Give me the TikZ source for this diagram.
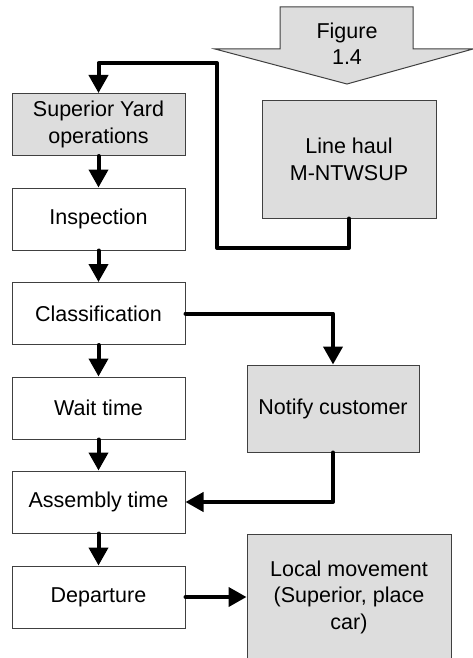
\documentclass[tikz,border=0pt]{standalone}
\usepackage{fontspec}
\setmainfont{Liberation Sans}
\usetikzlibrary{arrows.meta}
\definecolor{boxgray}{HTML}{DDDDDD}
\definecolor{edgegray}{HTML}{404040}
\begin{document}
\begin{tikzpicture}[x=1pt,y=-1pt,
  every node/.style={font=\fontsize{21.5}{26.5}\selectfont, align=center, inner sep=0pt},
  whitebox/.style={draw=edgegray, line width=1pt, fill=white, minimum width=173pt, minimum height=62pt},
  graybox/.style={whitebox, fill=boxgray},
  conn/.style={line width=4pt, line join=round, line cap=round, -{Triangle[width=19pt,length=18pt]}}]
\useasboundingbox (0,0) rectangle (473,658);
% Figure 1.4 block arrow
\draw[draw=edgegray, line width=1pt, fill=boxgray] (280,7) -- (413,7) -- (413,49) -- (473,49) -- (347,84) -- (215,49) -- (280,49) -- cycle;
\node (fig) at (347,43.5) {Figure\\1.4};
% left column
\node[graybox] (sy) at (98.5,124.5) {Superior Yard\\operations};
\node[whitebox] (insp) at (98.5,219) {Inspection};
\node[whitebox] (cls) at (98.5,313.5) {Classification};
\node[whitebox] (wait) at (98.5,408) {Wait time};
\node[whitebox] (asm) at (98.5,502) {Assembly time};
\node[whitebox] (dep) at (98.5,597) {Departure};
% right column
\node[graybox, minimum width=174pt, minimum height=117pt] (lh) at (349,159.5) {Line haul\\M-NTWSUP};
\node[graybox, minimum width=172pt, minimum height=87pt] (nc) at (333,408.5) {Notify customer};
\node[graybox, minimum width=204pt, minimum height=126pt] (lm) at (349,597) {Local movement\\(Superior, place\\car)};
% connector helper points
\coordinate (c1) at (217,248);
\coordinate (c2) at (98.5,63);
% connectors
\draw[conn] (lh.south) |- (c1) -- (c1 |- c2) -| (sy.north);
\draw[conn] (sy.south) -- (insp.north);
\draw[conn] (insp.south) -- (cls.north);
\draw[conn] (cls.south) -- (wait.north);
\draw[conn] (wait.south) -- (asm.north);
\draw[conn] (asm.south) -- (dep.north);
\draw[conn] (cls.east) -| (nc.north);
\draw[conn] (nc.south) |- (asm.east);
\draw[conn] (dep.east) -- (dep.east -| lm.west);
\end{tikzpicture}
\end{document}
